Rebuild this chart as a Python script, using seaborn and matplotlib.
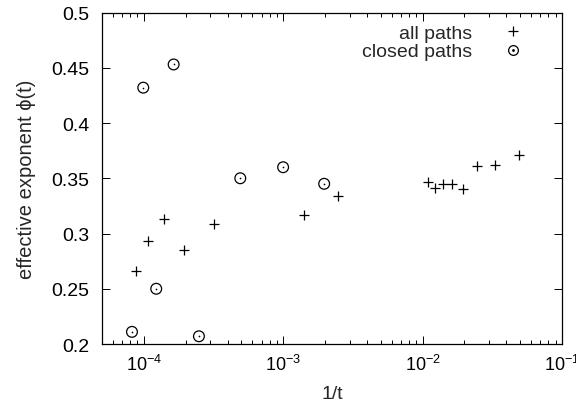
import matplotlib
matplotlib.use("Agg")
import matplotlib.pyplot as plt
import seaborn as sns
import pandas as pd
from matplotlib.lines import Line2D
from matplotlib.ticker import LogLocator, FixedLocator, NullFormatter

# effective exponent estimates vs inverse time
all_x = [8.86e-5, 1.07e-4, 1.39e-4, 1.93e-4, 3.17e-4, 1.42e-3, 2.49e-3,
         1.09e-2, 1.23e-2, 1.40e-2, 1.62e-2, 1.95e-2, 2.47e-2, 3.33e-2, 4.95e-2]
all_y = [0.266, 0.293, 0.313, 0.285, 0.309, 0.317, 0.334,
         0.347, 0.341, 0.345, 0.345, 0.340, 0.361, 0.362, 0.371]

closed_x = [8.24e-5, 9.93e-5, 1.23e-4, 1.64e-4, 2.49e-4, 4.93e-4, 1.0e-3, 1.97e-3]
closed_y = [0.211, 0.432, 0.250, 0.453, 0.207, 0.350, 0.360, 0.345]

x_ticks = [1e-4, 1e-3, 1e-2, 1e-1]
x_tick_labels = ["$10^{-4}$", "$10^{-3}$", "$10^{-2}$", "$10^{-1}$"]
y_ticks = [0.2, 0.25, 0.3, 0.35, 0.4, 0.45, 0.5]
y_tick_labels = ["0.2", "0.25", "0.3", "0.35", "0.4", "0.45", "0.5"]

sns.set_theme(style="ticks")
plt.rcParams["font.family"] = ["Liberation Sans", "DejaVu Sans"]
plt.rcParams["mathtext.fontset"] = "custom"
plt.rcParams["mathtext.rm"] = "Liberation Sans"
plt.rcParams["mathtext.it"] = "Liberation Sans:italic"

fig = plt.figure(figsize=(5.76, 4.10), dpi=100)
ax = fig.add_axes([0.1766, 0.1585, 0.799, 0.8085])

df_all = pd.DataFrame({"x": all_x, "y": all_y})
df_closed = pd.DataFrame({"x": closed_x, "y": closed_y})

sns.scatterplot(data=df_all, x="x", y="y", ax=ax, marker="+", s=55,
                color="black", linewidth=0.9, legend=False)
sns.scatterplot(data=df_closed, x="x", y="y", ax=ax, marker="o", s=60,
                facecolors="none", edgecolor="black", linewidth=0.9, legend=False)
sns.scatterplot(data=df_closed, x="x", y="y", ax=ax, marker="o", s=1.5,
                color="black", linewidth=0, legend=False)

ax.set_xscale("log")
ax.set_xlim(5e-5, 1e-1)
ax.set_ylim(0.2, 0.5)

ax.xaxis.set_major_locator(FixedLocator(x_ticks))
ax.set_xticklabels(x_tick_labels)
ax.xaxis.set_minor_locator(LogLocator(base=10, subs=range(2, 10), numticks=20))
ax.xaxis.set_minor_formatter(NullFormatter())
ax.set_yticks(y_ticks)
ax.set_yticklabels(y_tick_labels)

ax.tick_params(which="both", direction="in", top=True, right=True,
               labelsize=14, colors="black")
ax.tick_params(axis="x", labelsize=13, pad=7)
ax.tick_params(axis="y", pad=9)
ax.tick_params(which="major", length=6, width=0.7)
ax.tick_params(which="minor", length=3, width=0.7)
for sp in ax.spines.values():
    sp.set_linewidth(0.9)
    sp.set_color("black")

ax.set_xlabel("1/t", fontsize=14, labelpad=8)
ax.set_ylabel("effective exponent \u03d5(t)", fontsize=14.5, labelpad=11)

h_all = Line2D([], [], marker="+", color="black", linestyle="none",
               markersize=7, markeredgewidth=0.9)
h_circ = Line2D([], [], marker="o", markerfacecolor="none", markeredgecolor="black",
                linestyle="none", markersize=7, markeredgewidth=0.9)
h_dot = Line2D([], [], marker="o", color="black", linestyle="none", markersize=1.0)
ax.legend([h_all, (h_circ, h_dot)], ["all paths", "closed paths"],
          loc="upper right", frameon=False, markerfirst=False, fontsize=14,
          handlelength=1.5, handletextpad=1.36, labelspacing=0.05,
          borderaxespad=0.2, bbox_to_anchor=(0.951, 1.0))

fig.savefig("out.png", dpi=100)
